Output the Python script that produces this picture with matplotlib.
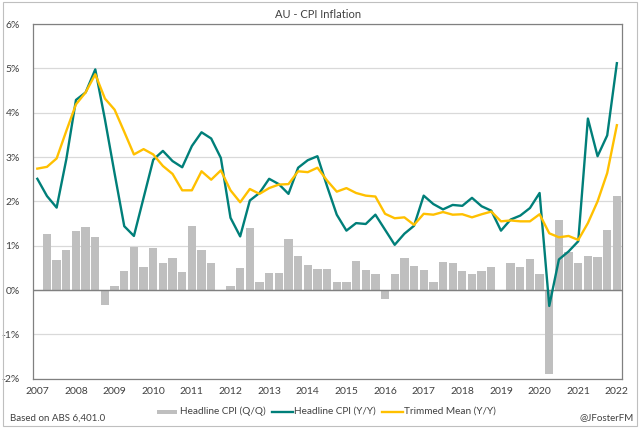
import numpy as np
import matplotlib
matplotlib.use("Agg")
import matplotlib.pyplot as plt
from matplotlib.patches import Rectangle
from matplotlib.lines import Line2D

plt.rcParams['font.family'] = ['Lato', 'DejaVu Sans']

# Quarterly data, Mar 2007 .. Mar 2022 (61 quarters)
years = list(range(2007, 2023))
quarters = [f"{y}Q{q}" for y in range(2007, 2023) for q in range(1, 5)][:61]

headline_qq = [np.nan, 1.27, 0.67, 0.91, 1.34, 1.43, 1.20, -0.33,
               0.09, 0.42, 0.96, 0.52, 0.95, 0.62, 0.73, 0.41,
               1.45, 0.91, 0.60, 0.0, 0.09, 0.49, 1.39, 0.18,
               0.39, 0.39, 1.16, 0.76, 0.56, 0.47, 0.47, 0.18,
               0.18, 0.65, 0.45, 0.36, -0.20, 0.36, 0.73, 0.55,
               0.45, 0.17, 0.64, 0.62, 0.44, 0.35, 0.44, 0.53,
               0.0, 0.60, 0.52, 0.70, 0.35, -1.90, 1.58, 0.86,
               0.60, 0.76, 0.74, 1.35, 2.13]

headline_yy = [2.51, 2.12, 1.86, 2.95, 4.29, 4.46, 4.98, 3.85,
               2.63, 1.44, 1.22, 2.08, 2.94, 3.14, 2.91, 2.77,
               3.25, 3.56, 3.42, 2.98, 1.63, 1.21, 2.02, 2.19,
               2.51, 2.39, 2.17, 2.76, 2.93, 3.02, 2.34, 1.70,
               1.34, 1.51, 1.49, 1.70, 1.36, 1.02, 1.27, 1.45,
               2.13, 1.94, 1.82, 1.92, 1.90, 2.08, 1.89, 1.79,
               1.34, 1.59, 1.68, 1.85, 2.19, -0.36, 0.69, 0.87,
               1.10, 3.87, 3.02, 3.49, 5.12]

trimmed_yy = [2.74, 2.78, 2.97, 3.59, 4.19, 4.46, 4.87, 4.32,
              4.07, 3.57, 3.06, 3.18, 3.06, 2.80, 2.62, 2.25,
              2.25, 2.68, 2.49, 2.70, 2.25, 1.98, 2.28, 2.17,
              2.30, 2.38, 2.39, 2.68, 2.66, 2.76, 2.47, 2.22,
              2.30, 2.19, 2.13, 2.11, 1.72, 1.62, 1.64, 1.47,
              1.72, 1.70, 1.76, 1.70, 1.71, 1.64, 1.71, 1.77,
              1.55, 1.57, 1.55, 1.55, 1.71, 1.28, 1.19, 1.22,
              1.13, 1.51, 2.00, 2.64, 3.72]

series_labels = ["Headline CPI (Q/Q)", "Headline CPI (Y/Y)", "Trimmed Mean (Y/Y)"]

grey = '#BFBFBF'
teal = '#007F79'
gold = '#FFC000'
txt = '#404040'

W, H = 640, 429
fig = plt.figure(figsize=(W / 100, H / 100), dpi=100)

def fx(px):
    return px / W

def fy(py):
    return 1 - py / H

# chart area border
fig.patches.append(Rectangle((fx(3), fy(426)), 634 / W, 424 / H, transform=fig.transFigure,
                             fill=False, edgecolor='#BFBFBF', linewidth=0.8))

ax = fig.add_axes([fx(32.5), fy(378.6), 589.2 / W, (378.6 - 24.2) / H])
x = np.arange(len(quarters))

ax.bar(x, headline_qq, width=0.86, color=grey, zorder=2)
ax.axhline(0, color='#808080', linewidth=1.0, zorder=3)
ax.plot(x, headline_yy, color=teal, linewidth=1.7, zorder=4)
ax.plot(x, trimmed_yy, color=gold, linewidth=1.7, zorder=5)

ax.set_xlim(-0.5, 60.5)
ax.set_ylim(-2, 6)
ax.set_yticks(range(-2, 7))
ax.set_yticklabels([f"{v}%" for v in range(-2, 7)])
ax.set_xticks(x[::4])
ax.set_xticklabels([str(y) for y in years])
ax.yaxis.grid(True, color='#D9D9D9', linewidth=0.9, zorder=0)
ax.set_axisbelow(True)
ax.tick_params(axis='both', length=0, labelsize=7.5, colors=txt)
ax.tick_params(axis='y', pad=9)
ax.tick_params(axis='x', pad=6)
for s in ax.spines.values():
    s.set_color('#808080')
    s.set_linewidth(0.9)

fig.text(fx(318), fy(15), "AU - CPI Inflation", ha='center', va='center',
         fontsize=8, color=txt)

# legend, laid out by hand like the Excel one
leg_y = 411.5
fig.patches.append(Rectangle((fx(157), fy(413.5)), 20 / W, 4 / H, transform=fig.transFigure,
                             facecolor=grey, edgecolor='none'))
fig.lines.append(Line2D([fx(272), fx(293)], [fy(leg_y), fy(leg_y)], transform=fig.transFigure,
                        color=teal, linewidth=1.7))
fig.lines.append(Line2D([fx(382), fx(403)], [fy(leg_y), fy(leg_y)], transform=fig.transFigure,
                        color=gold, linewidth=1.7))
for left, lab in zip([180, 294, 404], series_labels):
    fig.text(fx(left), fy(leg_y), lab, ha='left', va='center', fontsize=7.2, color=txt)

fig.text(fx(10), fy(418), "Based on ABS 6,401.0", ha='left', va='center',
         fontsize=7, color=txt)
fig.text(fx(634), fy(418), "@JFosterFM", ha='right', va='center',
         fontsize=7, color=txt)

fig.savefig("out.png", dpi=100)
